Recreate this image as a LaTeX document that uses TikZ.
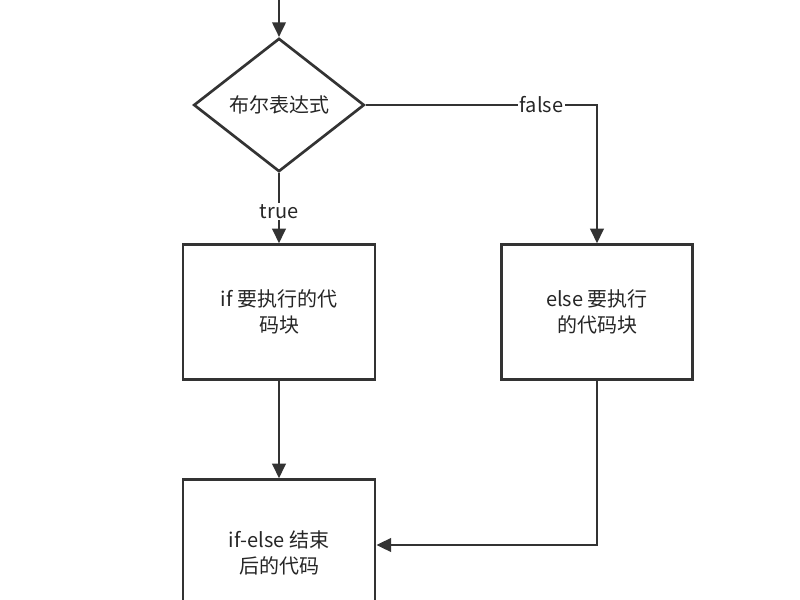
\documentclass[tikz,border=0pt]{standalone}
\usepackage{fontspec}
\setmainfont{Noto Sans CJK SC}
\usetikzlibrary{shapes.geometric,arrows.meta}
\begin{document}
\begin{tikzpicture}[x=0.75pt,y=-0.75pt,
  ln/.style={draw=black!80,line width=2pt},
  arr/.style={ln,-{Triangle[length=11pt,width=10pt]}},
  box/.style={ln,fill=white,rectangle,align=center,font=\fontsize{15}{20}\selectfont,text=black!85},
  lab/.style={fill=white,font=\fontsize{15}{18}\selectfont,text=black!85,inner sep=1pt}]
\useasboundingbox (0,0) rectangle (800,600);
\clip (0,0) rectangle (800,600);
\fill[white] (0,0) rectangle (800,600);
\coordinate (top) at (279,-5);
\node[box,diamond,aspect=1.27,minimum width=170\pgflinewidth,inner sep=0pt,minimum width=128pt,minimum height=100pt] (d) at (279,105) {布尔表达式};
\node[box,minimum width=144pt,minimum height=101pt] (b1) at (279,312) {if 要执行的代\\码块};
\node[box,minimum width=143pt,minimum height=101pt] (b2) at (597,312) {else 要执行\\的代码块};
\node[box,minimum width=144pt,minimum height=110pt] (b3) at (279,553) {if-else 结束\\后的代码};
\draw[arr] (top) -- (d.north);
\draw[arr] (d.east) -| node[lab,pos=0.38]{false} (b2.north);
\draw[arr] (d.south) -- node[lab,pos=0.55]{true} (b1.north);
\draw[arr] (b1.south) -- (b3.north);
\coordinate (c) at (597,545);
\draw[arr] (b2.south) -- (c) -- (b3.east|-c);
\end{tikzpicture}
\end{document}
